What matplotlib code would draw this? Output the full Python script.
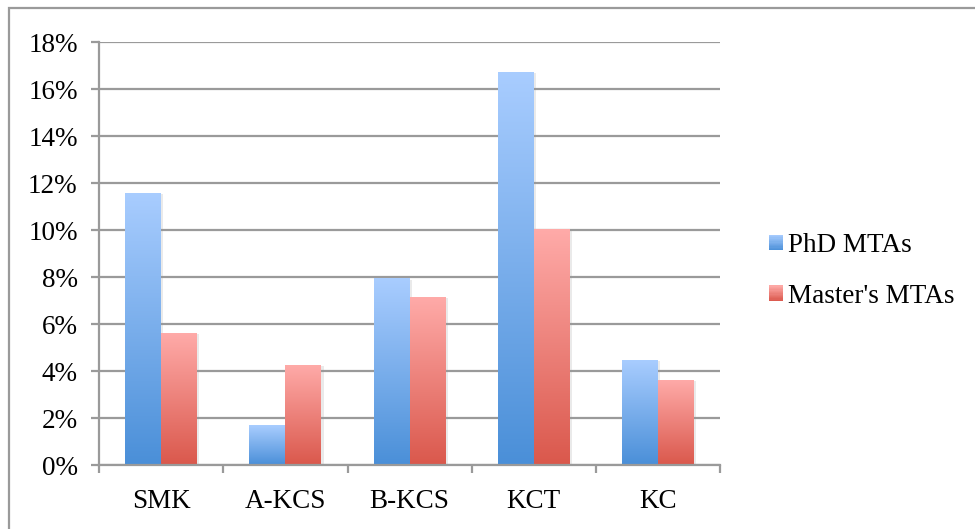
import numpy as np
import matplotlib
matplotlib.use("Agg")
import matplotlib.pyplot as plt
import matplotlib.patches as mpatches
import matplotlib.patheffects as pe
from matplotlib.colors import LinearSegmentedColormap, to_rgb
from matplotlib.legend_handler import HandlerBase
from matplotlib.ticker import FixedLocator, PercentFormatter

# Share of MTAs (%) by knowledge category
categories = ["SMK", "A-KCS", "B-KCS", "KCT", "KC"]
phd_mtas = [11.6, 1.7, 7.95, 16.75, 4.5]
masters_mtas = [5.65, 4.28, 7.17, 10.05, 3.65]
series_names = ["PhD MTAs", "Master's MTAs"]
y_ticks = [0, 2, 4, 6, 8, 10, 12, 14, 16, 18]

# gradient end colours (top, bottom) for each series
blue_grad = ("#A9CDFF", "#4A8FD8")
red_grad = ("#FFABA9", "#DA584C")

plt.rcParams["font.family"] = ["Liberation Serif", "DejaVu Serif"]
FS = 19.5

fig = plt.figure(figsize=(9.75, 5.29), dpi=100)
ax = fig.add_axes([0.1018, 0.1204, 0.6366, 0.7996])

x = np.arange(len(categories))
width = 0.29
grid_c = "#9A9A9A"


def gradient_bars(xpos, values, grad):
    cmap = LinearSegmentedColormap.from_list("g", [grad[1], grad[0]])
    grad_img = np.linspace(0, 1, 256).reshape(-1, 1)
    bars = ax.bar(xpos, values, width, color=grad[1], zorder=3, linewidth=0)
    for b in bars:
        b.set_path_effects([pe.SimplePatchShadow(offset=(1.5, -1.0),
                                                 shadow_rgbFace="#999999",
                                                 alpha=0.2),
                            pe.Normal()])
        x0, y0 = b.get_x(), b.get_y()
        w, h = b.get_width(), b.get_height()
        im = ax.imshow(grad_img, cmap=cmap, origin="lower", aspect="auto",
                       extent=(x0, x0 + w, y0, y0 + h), zorder=4,
                       interpolation="bilinear")
        im.set_clip_path(b)
    return bars


gradient_bars(x - width / 2, phd_mtas, blue_grad)
gradient_bars(x + width / 2, masters_mtas, red_grad)

ax.set_xlim(-0.5, len(categories) - 0.5)
ax.set_ylim(0, 18)

# horizontal gridlines
ax.yaxis.set_major_locator(FixedLocator(y_ticks))
ax.yaxis.set_major_formatter(PercentFormatter(decimals=0))
ax.grid(axis="y", color=grid_c, linewidth=1.6, zorder=1)
ax.set_axisbelow(True)

for s in ["top", "right"]:
    ax.spines[s].set_visible(False)
for s in ["left", "bottom"]:
    ax.spines[s].set_color(grid_c)
    ax.spines[s].set_linewidth(1.6)
    ax.spines[s].set_zorder(5)

ax.set_xticks(x)
ax.set_xticklabels(categories)
ax.set_xticks(np.arange(-0.5, len(categories)), minor=True)
ax.tick_params(axis="x", which="major", length=0, pad=17, labelsize=FS)
ax.tick_params(axis="x", which="minor", length=5.5, width=1.6,
               color=grid_c, direction="out")
ax.tick_params(axis="y", length=5.5, width=1.6, color=grid_c, pad=10,
               labelsize=FS)


class GradientHandler(HandlerBase):
    def __init__(self, grad, **kw):
        super().__init__(**kw)
        self.grad = grad

    def create_artists(self, legend, orig_handle, xdescent, ydescent,
                       width, height, fontsize, trans):
        top = np.array(to_rgb(self.grad[0]))
        bot = np.array(to_rgb(self.grad[1]))
        n = 12
        arts = []
        for i in range(n):
            f = (i + 0.5) / n
            c = bot + (top - bot) * f
            r = mpatches.Rectangle((-xdescent, -ydescent + height * i / n),
                                   width, height / n + 0.05,
                                   facecolor=c, edgecolor="none",
                                   transform=trans)
            arts.append(r)
        return arts


h1 = mpatches.Rectangle((0, 0), 1, 1)
h2 = mpatches.Rectangle((0, 0), 1, 1)
fig.legend([h1, h2], series_names,
           handler_map={h1: GradientHandler(blue_grad),
                        h2: GradientHandler(red_grad)},
           loc="center left", bbox_to_anchor=(0.7887, 0.4877),
           frameon=False, fontsize=FS, borderpad=0, borderaxespad=0,
           handlelength=0.52, handleheight=0.5, handletextpad=0.2,
           labelspacing=0.95)

# outer chart frame
frame = mpatches.Rectangle((8.5 / 975, -0.05), 1.2, 1.05 - 7.5 / 529,
                           transform=fig.transFigure, fill=False,
                           edgecolor="#9A9A9A", linewidth=1.6)
fig.patches.append(frame)

fig.savefig("out.png", dpi=100)
